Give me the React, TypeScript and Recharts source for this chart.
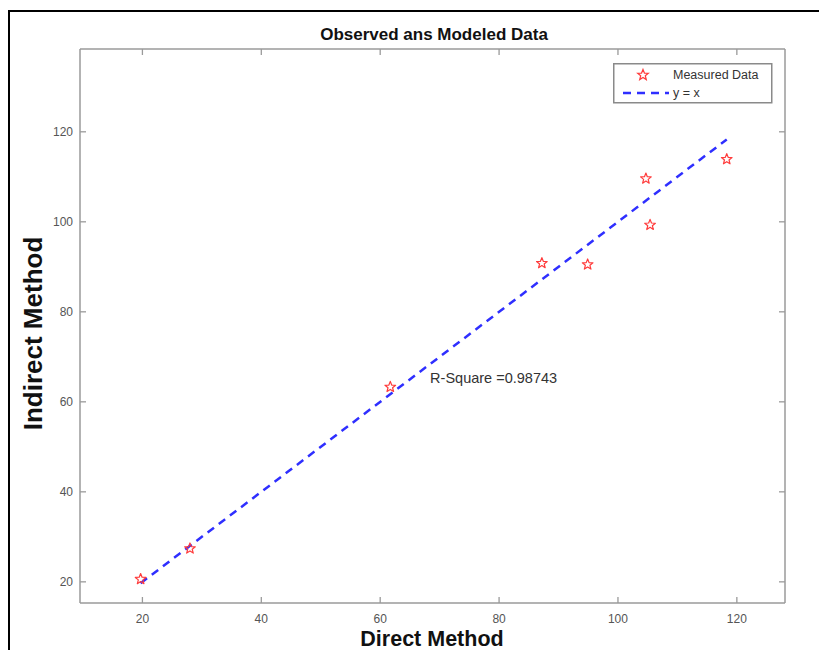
import React from 'react';
import {
  ScatterChart,
  Scatter,
  XAxis,
  YAxis,
  Legend,
  ReferenceDot,
  Customized,
} from 'recharts';

// ---- data ----
const directMethod = [19.7, 28.0, 61.7, 87.2, 94.9, 104.7, 105.4, 118.3];
const indirectMethod = [20.6, 27.4, 63.3, 90.8, 90.5, 109.6, 99.3, 113.9];
const xTicks = [20, 40, 60, 80, 100, 120];
const yTicks = [20, 40, 60, 80, 100, 120];
const xDomain = [9.5, 128.1];
const yDomain = [15.3, 138.4];
const rSquareLabel = 'R-Square =0.98743';
const rSquarePos = [68.4, 65.2];
const titleText = 'Observed ans Modeled Data';
const xLabelText = 'Direct Method';
const yLabelText = 'Indirect Method';
const legendNames = ['Measured Data', 'y = x'];

const measured = directMethod.map((x, i) => ({ x, y: indirectMethod[i] }));
const lineMin = Math.min(...directMethod);
const lineMax = Math.max(...directMethod);
const identityLine = [
  { x: lineMin, y: lineMin },
  { x: lineMax, y: lineMax },
];

const W = 819;
const H = 642;
const AXIS_COLOR = '#9a9a9a';
const TICK_TEXT = '#555';
const FONT = "'Liberation Sans', Arial, Helvetica, sans-serif";
const STAR_COLOR = '#ff3b3b';
const LINE_COLOR = '#2f2fff';

const starPoints = (cx: number, cy: number, R: number, r: number) => {
  const pts: string[] = [];
  for (let k = 0; k < 10; k++) {
    const ang = -Math.PI / 2 + (k * Math.PI) / 5;
    const rad = k % 2 === 0 ? R : r;
    pts.push(`${cx + rad * Math.cos(ang)},${cy + rad * Math.sin(ang)}`);
  }
  return pts.join(' ');
};

const StarShape = (props: any) => {
  const { cx, cy } = props;
  if (cx == null || cy == null) return null;
  return (
    <polygon
      points={starPoints(cx, cy, 5.6, 2.4)}
      fill="none"
      stroke={STAR_COLOR}
      strokeWidth={1.2}
      strokeLinejoin="round"
    />
  );
};

const BottomTick = (props: any) => {
  const { x, y, payload } = props;
  return (
    <g>
      <line x1={x} y1={y} x2={x} y2={y - 6} stroke={AXIS_COLOR} strokeWidth={1.3} />
      <text x={x} y={y + 20} textAnchor="middle" fill={TICK_TEXT} fontSize={12} fontFamily={FONT}>
        {payload.value}
      </text>
    </g>
  );
};

const LeftTick = (props: any) => {
  const { x, y, payload } = props;
  return (
    <g>
      <line x1={x} y1={y} x2={x + 6} y2={y} stroke={AXIS_COLOR} strokeWidth={1.3} />
      <text x={x - 7} y={y + 4} textAnchor="end" fill={TICK_TEXT} fontSize={12} fontFamily={FONT}>
        {payload.value}
      </text>
    </g>
  );
};

const TopTick = (props: any) => {
  const { x, y } = props;
  return <line x1={x} y1={y} x2={x} y2={y + 6} stroke={AXIS_COLOR} strokeWidth={1.3} />;
};

const RightTick = (props: any) => {
  const { x, y } = props;
  return <line x1={x} y1={y} x2={x - 6} y2={y} stroke={AXIS_COLOR} strokeWidth={1.3} />;
};

const LegendBox = () => (
  <svg width={160} height={41} style={{ display: 'block' }}>
    <rect x={0.75} y={0.75} width={158} height={39} fill="#fff" stroke="#8a8a8a" strokeWidth={1.5} />
    <polygon points={starPoints(30, 12, 5.6, 2.4)} fill="none" stroke={STAR_COLOR} strokeWidth={1.2} />
    <text x={60} y={16} fontSize={12.5} fill="#333" fontFamily={FONT}>
      {legendNames[0]}
    </text>
    <line x1={10} y1={30} x2={56} y2={30} stroke={LINE_COLOR} strokeWidth={2.5} strokeDasharray="8 6" />
    <text x={60} y={34} fontSize={12.5} fill="#333" fontFamily={FONT}>
      {legendNames[1]}
    </text>
  </svg>
);

const Decorations = () => (
  <g>
    <rect x={1} y={3} width={W + 50} height={H + 50} fill="none" stroke="#000" strokeWidth={2} />
    <text x={426} y={32} textAnchor="middle" fontSize={17} fontWeight="bold" fill="#111" fontFamily={FONT}>
      {titleText}
    </text>
    <text x={424} y={638} textAnchor="middle" fontSize={21.5} fontWeight="bold" fill="#111" fontFamily={FONT}>
      {xLabelText}
    </text>
    <text
      x={34}
      y={325.5}
      transform="rotate(-90 34 325.5)"
      textAnchor="middle"
      fontSize={26}
      fontWeight="bold"
      fill="#111"
      fontFamily={FONT}
    >
      {yLabelText}
    </text>
  </g>
);

export default function App() {
  return (
    <div style={{ width: W, height: H, background: '#fff' }}>
      <ScatterChart width={W} height={H} margin={{ top: 40, right: 41, bottom: 0, left: 0 }}>
        <XAxis
          type="number"
          dataKey="x"
          domain={xDomain}
          ticks={xTicks}
          allowDataOverflow
          height={47}
          tickSize={0}
          tickMargin={0}
          tickLine={false}
          axisLine={{ stroke: AXIS_COLOR, strokeWidth: 1.5 }}
          tick={<BottomTick />}
          interval={0}
        />
        <YAxis
          type="number"
          dataKey="y"
          domain={yDomain}
          ticks={yTicks}
          allowDataOverflow
          width={72}
          tickSize={0}
          tickMargin={0}
          tickLine={false}
          axisLine={{ stroke: AXIS_COLOR, strokeWidth: 1.5 }}
          tick={<LeftTick />}
          interval={0}
        />
        <XAxis
          xAxisId="top"
          orientation="top"
          type="number"
          dataKey="x"
          domain={xDomain}
          ticks={xTicks}
          allowDataOverflow
          height={1}
          tickSize={0}
          tickMargin={0}
          tickLine={false}
          axisLine={{ stroke: AXIS_COLOR, strokeWidth: 1.5 }}
          tick={<TopTick />}
          interval={0}
        />
        <YAxis
          yAxisId="right"
          orientation="right"
          type="number"
          dataKey="y"
          domain={yDomain}
          ticks={yTicks}
          allowDataOverflow
          width={1}
          tickSize={0}
          tickMargin={0}
          tickLine={false}
          axisLine={{ stroke: AXIS_COLOR, strokeWidth: 1.5 }}
          tick={<RightTick />}
          interval={0}
        />
        <Scatter
          name={legendNames[1]}
          data={identityLine}
          xAxisId="top"
          yAxisId="right"
          line={{ stroke: LINE_COLOR, strokeWidth: 2.5, strokeDasharray: '8 6' }}
          shape={() => null}
          isAnimationActive={false}
        />
        <Scatter
          name={legendNames[0]}
          data={measured}
          shape={<StarShape />}
          isAnimationActive={false}
        />
        <ReferenceDot
          x={rSquarePos[0]}
          y={rSquarePos[1]}
          r={0}
          shape={(p: any) => (
            <text x={p.cx} y={p.cy + 5} fontSize={14.5} fill="#333" fontFamily={FONT}>
              {rSquareLabel}
            </text>
          )}
        />
        <Legend
          layout="vertical"
          align="center"
          verticalAlign="middle"
          content={<LegendBox />}
          wrapperStyle={{ position: 'absolute', left: 605, top: 55, width: 160, height: 41 }}
        />
        <Customized component={<Decorations />} />
      </ScatterChart>
    </div>
  );
}
